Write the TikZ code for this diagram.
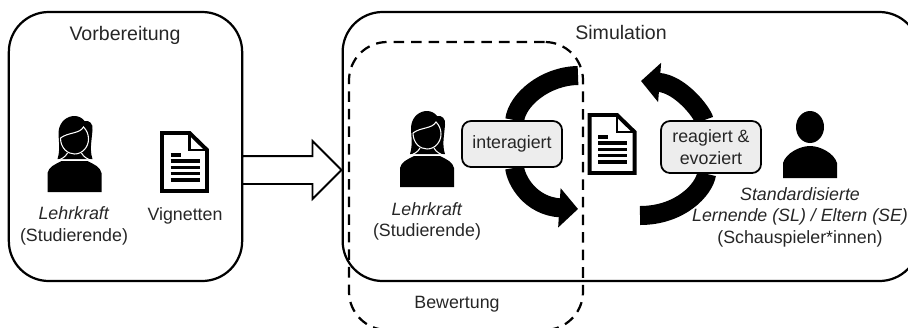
\documentclass[tikz,border=0pt]{standalone}
\usepackage{fontspec}
\setmainfont{Liberation Sans}
\usepackage{tikz}
\usetikzlibrary{arrows.meta}
\usetikzlibrary{backgrounds}
\usetikzlibrary{shapes.arrows}
\tikzstyle{label text}=[font=\fontsize{15.2}{18.3}\selectfont, align=center, inner sep=0pt, text=black!85]
\tikzstyle{title text}=[label text, font=\fontsize{16.7}{18.3}\selectfont]
\tikzstyle{phase}=[draw=black, line width=1.9pt, rectangle, rounded corners=1.2cm, minimum height=8.07cm, inner sep=0pt]
\tikzstyle{bewertung}=[draw=black, line width=1.9pt, dash pattern=on 9pt off 6pt, rectangle, rounded corners=1.15cm, minimum width=7.02cm, minimum height=8.64cm, inner sep=0pt]
\tikzstyle{aktion}=[label text, draw=black, fill=black!7, line width=1.5pt, rectangle, rounded corners=0.27cm, minimum width=3cm]
\tikzstyle{bogen}=[draw=black, line width=0.57cm]
\tikzstyle{bogenpfeil}=[bogen, -{Triangle[length=0.56cm, width=1.15cm]}]
\tikzset{
	lehrkraftfigur/.pic={
		\fill[black] (-27,0) -- (-27,-19) .. controls (-26,-25) and (-19,-28) .. (-13,-31) -- (13,-31) .. controls (19,-28) and (26,-25) .. (27,-19) -- (27,0) -- cycle;
		\fill[black] (-17,-33) .. controls (-14,-42) and (-16,-52) .. (-16,-60) .. controls (-15,-71) and (-7,-76) .. (0,-76) .. controls (4,-76) and (8,-74) .. (10,-71) .. controls (15,-72) and (19,-68) .. (18,-62) .. controls (17,-50) and (15,-42) .. (18,-33) -- cycle;
		\draw[white, line width=0.9pt] (-14,-54) .. controls (-14,-44) and (-7,-38) .. (0,-38) .. controls (8,-38) and (14,-45) .. (14,-53) .. controls (14,-58) and (12,-62) .. (9,-65) .. controls (5,-58) and (-6,-60) .. (-14,-54);
		\draw[white, line width=0.9pt] (-18,-31) .. controls (-13,-33) and (-9,-35) .. (-7,-39);
		\draw[white, line width=0.9pt] (18,-31) .. controls (13,-33) and (9,-35) .. (7,-39);
	},
	personfigur/.pic={
		\fill[black] (0,-51) ellipse (14 and 16);
		\fill[black] (-27,0) -- (-27,-15) .. controls (-24,-25) and (-10,-32) .. (0,-32) .. controls (10,-32) and (24,-25) .. (27,-15) -- (27,0) -- cycle;
	},
	vignettenfigur/.pic={
		\draw[black, line width=3.4pt, line join=miter] (-22.5,-29) -- (5,-29) -- (22.5,-12) -- (22.5,29) -- (-22.5,29) -- cycle;
		\draw[black, line width=2.4pt] (5,-29) -- (5,-12) -- (22.5,-12);
		\draw[black, line width=2.6pt] (-14,-7) -- (-4,-7);
		\foreach \zeile in {-1,5.3,11.6,18}
			\draw[black, line width=2.6pt] (-14,\zeile) -- (15,\zeile);
	}
}
\begin{document}
\begin{tikzpicture}[x=0.03cm, y=-0.03cm]
	\useasboundingbox (0,0) rectangle (908,327);
	\clip (0,0) rectangle (908,327);
	\begin{scope}
		\node (vorbereitung) at (125.5, 146.5)[phase, minimum width=7cm] {};
		\node (simulation) at (631, 146.5)[phase, minimum width=17.3cm] {};
		\node (bewertung) at (466, 186)[bewertung] {};
		\node (pfeil) at (285, 170)[draw=black, line width=1.6pt, fill=white, single arrow, single arrow head extend=0.45cm, single arrow head indent=0pt, minimum height=2.97cm, minimum width=1.68cm, inner sep=0pt] {\rule{0pt}{0.78cm}};
	\end{scope}
	\begin{scope}
		\pic at (74.5, 192) {lehrkraftfigur};
		\pic at (427, 187) {lehrkraftfigur};
		\pic at (810, 178) {personfigur};
		\pic at (184.5, 162) {vignettenfigur};
		\pic at (612, 144) {vignettenfigur};
	\end{scope}
	\begin{scope}
		\node (titelvorbereitung) at (125, 35)[title text] {Vorbereitung};
		\node (lehrkraftlinks) at (74, 226)[label text] {\textit{Lehrkraft}\\(Studierende)};
		\node (vignetten) at (185, 216)[label text] {Vignetten};
		\node (titelsimulation) at (621, 33)[title text] {Simulation};
		\node (lehrkraftrechts) at (427, 221.5)[label text] {\textit{Lehrkraft}\\(Studierende)};
		\node (schauspieler) at (800, 217)[label text] {\textit{Standardisierte}\\\textit{Lernende (SL) / Eltern (SE)}\\(Schauspieler*innen)};
		\node (titelbewertung) at (457, 304)[label text] {Bewertung};
		\node (interagiert) at (512, 144)[aktion, minimum height=1.38cm] {interagiert};
		\node (reagiert) at (711, 147)[aktion, minimum height=1.56cm] {reagiert \&\\evoziert};
	\end{scope}
	\coordinate (obenlinks) at (578, 75.5);
	\coordinate (untenlinks) at (578, 209);
	\coordinate (obenrechts) at (641, 81);
	\coordinate (untenrechts) at (640, 215.5);
	\begin{pgfonlayer}{background}
		\path [bogen] (interagiert) .. controls (517, 100) and (545, 76) .. (obenlinks);
		\path [bogenpfeil] (interagiert) .. controls (516, 180) and (530, 206) .. (untenlinks);
		\path [bogenpfeil] (reagiert) .. controls (702, 112) and (680, 84) .. (obenrechts);
		\path [bogen] (reagiert) .. controls (704, 190) and (680, 215.5) .. (untenrechts);
	\end{pgfonlayer}
\end{tikzpicture}
\end{document}
